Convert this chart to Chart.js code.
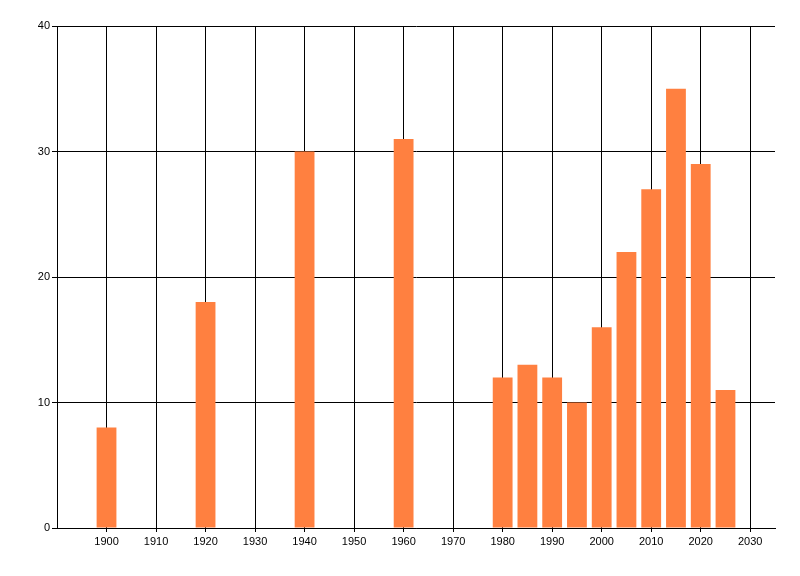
<!DOCTYPE html>
<html>
<head>
<meta charset="utf-8">
<script src="https://cdn.jsdelivr.net/npm/chart.js@4/dist/chart.umd.min.js"></script>
<style>
  html, body { margin: 0; padding: 0; background: #fff; }
  #wrap { width: 800px; height: 576px; }
</style>
</head>
<body>
<div id="wrap"><canvas id="myBarChart" width="800" height="576"></canvas></div>
<script>
// chart data
const years = [1900, 1920, 1940, 1960, 1980, 1985, 1990, 1995, 2000, 2005, 2010, 2015, 2020, 2025];
const counts = [8, 18, 30, 31, 12, 13, 12, 10, 16, 22, 27, 35, 29, 11];
const xTickValues = [1890, 1900, 1910, 1920, 1930, 1940, 1950, 1960, 1970, 1980, 1990, 2000, 2010, 2020, 2030];
const yTickValues = [0, 10, 20, 30, 40];

const points = years.map((yr, i) => ({ x: yr, y: counts[i] }));
const tickFont = { family: 'Liberation Sans, Arial, sans-serif', size: 11 };

const ctx = document.getElementById('myBarChart').getContext('2d');
new Chart(ctx, {
  type: 'bar',
  data: {
    datasets: [{
      data: points,
      backgroundColor: 'rgb(255, 128, 64)',
      borderWidth: 0,
      barPercentage: 0.8,
      categoryPercentage: 1
    }]
  },
  options: {
    responsive: false,
    animation: false,
    layout: { padding: { top: 26, right: 25, left: 0, bottom: 0 } },
    plugins: { legend: { display: false }, tooltip: { enabled: false } },
    scales: {
      x: {
        type: 'linear',
        offset: false,
        min: 1890,
        max: 2035,
        afterBuildTicks: scale => { scale.ticks = xTickValues.map(v => ({ value: v })); },
        afterFit: scale => { scale.height = 48; },
        ticks: {
          color: '#000',
          font: tickFont,
          padding: 3,
          maxRotation: 0,
          callback: v => (v === 1890 ? '' : String(v))
        },
        grid: {
          offset: false,
          color: '#000',
          lineWidth: 1,
          tickLength: 4,
          // no tick mark under the corner
          tickColor: c => (c.tick && c.tick.value === 1890 ? 'rgba(0,0,0,0)' : '#000')
        },
        border: { color: '#000', width: 1 }
      },
      y: {
        min: 0,
        max: 40,
        afterBuildTicks: scale => { scale.ticks = yTickValues.map(v => ({ value: v })); },
        afterFit: scale => { scale.width = 57; },
        ticks: { color: '#000', font: tickFont, padding: 2 },
        grid: { color: '#000', lineWidth: 1, tickLength: 5 },
        border: { color: '#000', width: 1 }
      }
    }
  }
});
</script>
</body>
</html>
